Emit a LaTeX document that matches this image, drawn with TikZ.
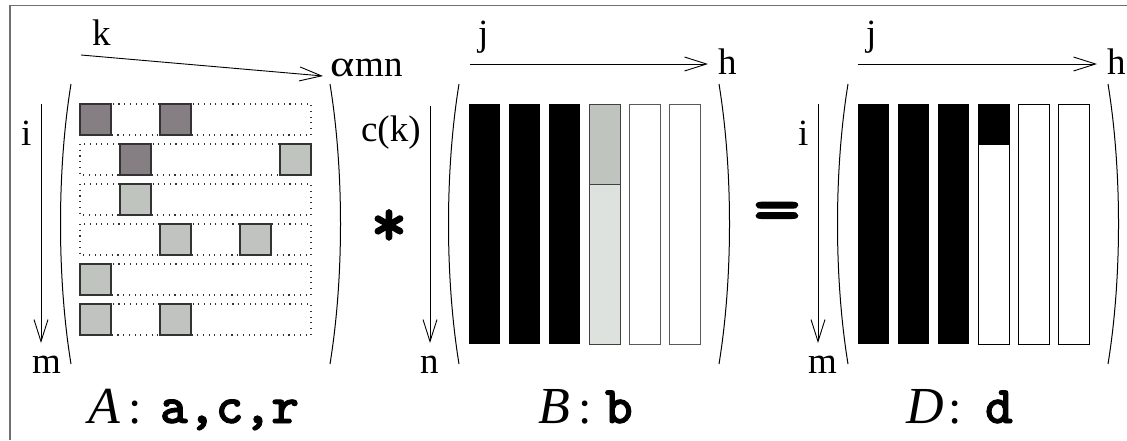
\documentclass[tikz,border=0pt]{standalone}
\usepackage{fontspec}
\setmainfont{Liberation Serif}
\newfontfamily\ttheavy{lmmonolt10-bold.otf}[FakeBold=1.6]
\usetikzlibrary{arrows.meta}
\definecolor{darksq}{HTML}{857F84}
\definecolor{lightsq}{HTML}{BFC4BE}
\definecolor{palesq}{HTML}{DEE2DF}
\definecolor{framegray}{HTML}{707070}
\begin{document}
\begin{tikzpicture}[x=1pt,y=-1pt,
  lbl/.style={inner sep=0pt, outer sep=0pt, anchor=base west, font=\fontsize{37}{40}\selectfont},
  big/.style={inner sep=0pt, outer sep=0pt, anchor=base west, font=\fontsize{52}{56}\selectfont\itshape},
  colon/.style={inner sep=0pt, outer sep=0pt, anchor=base west, font=\fontsize{48}{52}\selectfont},
  tt/.style={inner sep=0pt, outer sep=0pt, anchor=base west, font=\fontsize{53}{56}\selectfont\ttheavy},
  op/.style={inner sep=0pt, font=\fontsize{70}{70}\selectfont\ttheavy},
  axis/.style={line width=0.9pt, -{Straight Barb[length=22pt,width=14pt,line width=0.9pt]}},
  paren/.style={line width=1pt},
  rowbox/.style={line width=1.1pt, dash pattern=on 1.1pt off 4.6pt, draw=black!80},
  sq/.style={line width=1.2pt, draw=black!80},
  col/.style={line width=1pt}]
\useasboundingbox (0,0) rectangle (1127,440);
% frame
\draw[framegray, line width=1.6pt] (10,440) -- (10,5.5) -- (1127,5.5);

% ---------------- Matrix A ----------------
\coordinate (kS) at (81,55);
\coordinate (kE) at (323,76);
\draw[axis] (kS) -- (kE);
\node[lbl] (klab) at (92,45) {k};
\node[lbl] (amn) at (330,76) {\scalebox{1.25}[1]{α}\hspace{1pt}mn};
\coordinate (iS) at (41,104);
\coordinate (iE) at (41,343);
\draw[axis] (iS) -- (iE);
\node[lbl] (ilabA) at (21,145) {i};
\node[lbl] (mlabA) at (32,373) {m};
\draw[paren] (71,84) .. controls (57,170) and (57,278) .. (71,364);
\draw[paren] (330,84) .. controls (344,170) and (344,278) .. (330,364);
\foreach \r in {0,...,5}{
  \draw[rowbox] (80,104+40*\r) rectangle (311,135+40*\r);
}
\foreach \c/\r/\colr in {0/0/darksq,2/0/darksq,1/1/darksq,5/1/lightsq,1/2/lightsq,
                         2/3/lightsq,4/3/lightsq,0/4/lightsq,0/5/lightsq,2/5/lightsq}{
  \filldraw[sq, fill=\colr] (80+40*\c,104+40*\r) rectangle (111+40*\c,135+40*\r);
}
\node[big] (Alab) at (88,423) {A};
\node[colon] (Acol) at (128,423) {:};
\node[tt] (Att) at (160,423) {a,c,r};

% operator *
\node[op] (times) at (389,228) {*};

% ---------------- Matrix B ----------------
\coordinate (jBS) at (470,64);
\coordinate (jBE) at (708,64);
\draw[axis] (jBS) -- (jBE);
\node[lbl] (jlabB) at (478,45) {j};
\node[lbl] (hlabB) at (718,74) {h};
\coordinate (cS) at (430,106);
\coordinate (cE) at (430,343);
\draw[axis] (cS) -- (cE);
\node[lbl] (cklab) at (361,141) {c(k)};
\node[lbl] (nlab) at (420,373) {n};
\draw[paren] (459,84) .. controls (445,170) and (445,278) .. (459,364);
\draw[paren] (719,84) .. controls (733,170) and (733,278) .. (719,364);
\foreach \c in {0,1,2}{
  \fill[black] (469+40*\c,104) rectangle (500+40*\c,344);
}
\filldraw[col, draw=black!75, fill=lightsq] (589,104) rectangle (620,184);
\filldraw[col, draw=black!75, fill=palesq] (589,184) rectangle (620,344);
\foreach \c in {4,5}{
  \draw[col, draw=black!65] (469+40*\c,104) rectangle (500+40*\c,344);
}
\node[big] (Blab) at (538,423) {B};
\node[colon] (Bcol) at (578,423) {:};
\node[tt] (Btt) at (605,423) {b};

% operator =
\node[op, xscale=1.3] (eq) at (777,217) {=};

% ---------------- Matrix D ----------------
\coordinate (jDS) at (858,64);
\coordinate (jDE) at (1097,64);
\draw[axis] (jDS) -- (jDE);
\node[lbl] (jlabD) at (866,45) {j};
\node[lbl] (hlabD) at (1107,74) {h};
\coordinate (iDS) at (818,104);
\coordinate (iDE) at (818,343);
\draw[axis] (iDS) -- (iDE);
\node[lbl] (ilabD) at (798,145) {i};
\node[lbl] (mlabD) at (808,373) {m};
\draw[paren] (848,84) .. controls (834,170) and (834,278) .. (848,364);
\draw[paren] (1108,84) .. controls (1122,170) and (1122,278) .. (1108,364);
\foreach \c in {0,1,2}{
  \fill[black] (858+40*\c,104) rectangle (889+40*\c,344);
}
\draw[col] (978,104) rectangle (1009,344);
\fill[black] (978,104) rectangle (1009,145);
\foreach \c in {4,5}{
  \draw[col] (858+40*\c,104) rectangle (889+40*\c,344);
}
\node[big] (Dlab) at (906,423) {D};
\node[colon] (Dcol) at (948,423) {:};
\node[tt] (Dtt) at (985,423) {d};
\end{tikzpicture}
\end{document}
